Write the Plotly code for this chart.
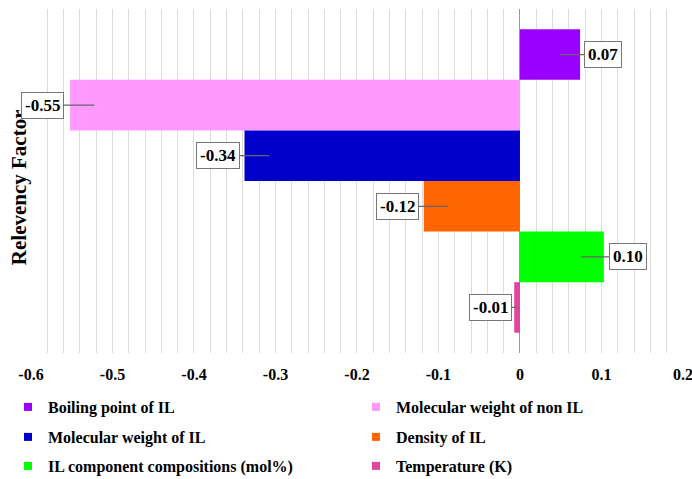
import plotly.graph_objects as go

# ---- data ----
categories = ["Boiling point of IL", "Molecular weight of non IL", "Molecular weight of IL",
              "Density of IL", "IL component compositions (mol%)", "Temperature (K)"]
values = [0.0738, -0.552, -0.338, -0.118, 0.103, -0.007]
value_labels = ["0.07", "-0.55", "-0.34", "-0.12", "0.10", "-0.01"]
tick_vals = [-0.6, -0.5, -0.4, -0.3, -0.2, -0.1, 0, 0.1, 0.2]
tick_text = ["-0.6", "-0.5", "-0.4", "-0.3", "-0.2", "-0.1", "0", "0.1", "0.2"]

# ---- style ----
colors = ["#9900FF", "#FF99FF", "#0000CC", "#FF6600", "#00FF00", "#E2449F"]
tip_shift = [-0.025, 0.03, 0.03, 0.03, -0.028, 0.0035]   # pointer tip inside the bar
label_dx = [43, -52, -51, -51, 47, -27]                   # pixel offset of the callout box
legend_ids = ["legend", "legend2", "legend3", "legend4", "legend5", "legend6"]
legend_px = [8, 356, 8, 356, 8, 356]                      # page pixel: left of each legend entry
legend_py = [407, 407, 437, 437, 466, 466]                # page pixel: centre row of each entry

W, H = 692, 479
FONT = "Liberation Serif, Times New Roman, serif"

fig = go.Figure()
for cat, v, c in zip(categories, values, colors):
    fig.add_trace(go.Bar(x=[v], y=[cat], orientation="h", marker=dict(color=c, line=dict(width=0)),
                         width=1, showlegend=False, name=cat))
for cat, c, lg in zip(categories, colors, legend_ids):
    fig.add_trace(go.Scatter(x=[None], y=[None], mode="markers", name=cat, legend=lg,
                             marker=dict(symbol="square", size=8, color=c), showlegend=True))

annotations = [dict(text="<b>Relevency Factor</b>", xref="paper", yref="paper", x=-0.0184, y=0.482,
                    textangle=-90, showarrow=False, font=dict(family=FONT, size=21, color="black"),
                    xanchor="center", yanchor="middle")]
for cat, v, lab, ts, dx in zip(categories, values, value_labels, tip_shift, label_dx):
    annotations.append(dict(x=v + ts, y=cat, xref="x", yref="y", text="<b>" + lab + "</b>",
                            showarrow=True, arrowhead=0, arrowwidth=1.2, arrowcolor="#666666",
                            ax=dx, ay=0, bgcolor="white", bordercolor="#777777", borderwidth=1,
                            borderpad=3, font=dict(family=FONT, size=17, color="black")))

legends = {}
for lg, px, py in zip(legend_ids, legend_px, legend_py):
    legends[lg] = dict(orientation="v", xref="container", yref="container",
                       x=px / W, y=1 - py / H, xanchor="left", yanchor="middle",
                       font=dict(family=FONT, size=16, color="black", weight="bold"),
                       bgcolor="rgba(0,0,0,0)", itemwidth=30, borderwidth=0)

fig.update_layout(
    width=W, height=H,
    margin=dict(l=31, r=9, t=9, b=126, autoexpand=False),
    plot_bgcolor="white", paper_bgcolor="white",
    barmode="overlay",
    font=dict(family=FONT, color="black"),
    xaxis=dict(range=[-0.6, 0.2001], tickvals=tick_vals, ticktext=tick_text,
               tickfont=dict(family=FONT, size=16, color="black", weight="bold"), showgrid=True,
               gridcolor="#DDDDDD", gridwidth=1,
               minor=dict(dtick=0.02, showgrid=True, gridcolor="#DDDDDD", gridwidth=1),
               zeroline=True, zerolinecolor="#999999", zerolinewidth=1, showline=False,
               ticks="", ticklabelstandoff=10, ticklabeloverflow="allow", automargin=False),
    yaxis=dict(type="category", categoryarray=categories, range=[5.9, -0.9], showticklabels=False,
               showgrid=False, zeroline=False, showline=False, ticks="", automargin=False),
    annotations=annotations,
    **legends,
)

fig.write_html("out.html", config={"displayModeBar": False},
               post_script="document.body.style.margin='0';document.body.style.overflow='hidden';")
